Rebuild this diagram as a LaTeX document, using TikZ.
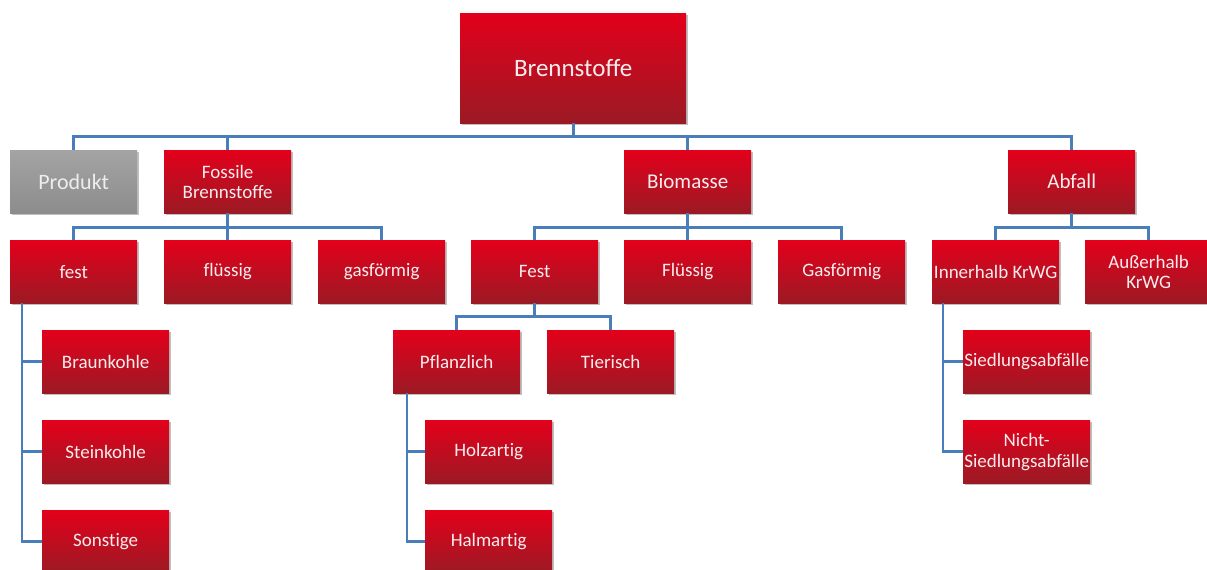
\documentclass[tikz,border=0pt]{standalone}
\usepackage{fontspec}
\setmainfont[RawFeature={-liga;-dlig;-clig}]{Carlito}
\usetikzlibrary{shadows}
\definecolor{lineblue}{HTML}{4A7EBB}
\definecolor{redtop}{HTML}{E3001B}
\definecolor{redmid}{HTML}{CE1120}
\definecolor{redbot}{HTML}{9B1A24}
\definecolor{txt}{HTML}{F8ECEE}
\definecolor{graytop}{HTML}{A4A4A4}
\definecolor{graybot}{HTML}{8C8C8C}
\definecolor{graytxt}{HTML}{EDEDED}
\begin{document}
\begin{tikzpicture}[x=1pt,y=-1pt,
  redbox/.style={shade, top color=redtop, middle color=redmid, bottom color=redbot,
    text=txt, minimum width=127pt, minimum height=63pt, inner sep=0pt,
    anchor=north west, align=center, font=\fontsize{19}{21}\selectfont,
    drop shadow={shadow xshift=1.5pt, shadow yshift=-2pt, opacity=0.25, fill=black}},
  graybox/.style={redbox, top color=graytop, middle color=graytop!50!graybot, bottom color=graybot, text=graytxt},
  toprow/.style={font=\fontsize{21}{23}\selectfont},
  conn/.style={draw=lineblue, line width=2.6pt}]
\useasboundingbox[fill=white] (0,0) rectangle (1207,570);

% level 0
\node[redbox, minimum width=226pt, minimum height=110pt, font=\fontsize{25}{28}\selectfont] (brenn) at (460,13) {Brennstoffe};
% level 1
\node[graybox, font=\fontsize{22}{24}\selectfont] (produkt) at (10,150) {Produkt};
\node[redbox, font=\fontsize{19}{20}\selectfont] (fossil) at (164,150) {Fossile\\Brennstoffe};
\node[redbox, toprow] (bio) at (624,150) {Biomasse};
\node[redbox, toprow] (abfall) at (1008,150) {Abfall};
% level 2
\node[redbox] (fest) at (10,240) {fest};
\node[redbox] (fluessig) at (164,240) {flüssig};
\node[redbox] (gas) at (318,240) {gasförmig};
\node[redbox] (festB) at (471,240) {Fest};
\node[redbox] (fluessigB) at (624,240) {Flüssig};
\node[redbox] (gasB) at (778,240) {Gasförmig};
\node[redbox] (inner) at (932,240) {\makebox[110pt][c]{Innerhalb KrWG}};
\node[redbox, font=\fontsize{19}{20}\selectfont] (ausser) at (1085,240) {Außerhalb\\KrWG};
% level 3
\node[redbox] (braun) at (42,330) {Braunkohle};
\node[redbox] (pflanz) at (393,330) {Pflanzlich};
\node[redbox] (tier) at (547,330) {Tierisch};
\node[redbox] (sied) at (963,330) {\makebox[110pt][c]{Siedlungsabfälle}};
% level 4
\node[redbox] (stein) at (42,420) {Steinkohle};
\node[redbox] (holz) at (425,420) {Holzartig};
\node[redbox, font=\fontsize{19}{21}\selectfont] (nicht) at (963,420) {Nicht-\\\makebox[110pt][c]{Siedlungsabfälle}};
% level 5
\node[redbox] (sonst) at (42,510) {Sonstige};
\node[redbox] (halm) at (425,510) {Halmartig};

% connectors
\draw[conn] (brenn.south) -- ++(0,13) -| (produkt.north);
\draw[conn] (brenn.south) -- ++(0,13) -| (fossil.north);
\draw[conn] (brenn.south) -- ++(0,13) -| (bio.north);
\draw[conn] (brenn.south) -- ++(0,13) -| (abfall.north);

\draw[conn] (fossil.south) -- ++(0,14) -| (fest.north);
\draw[conn] (fossil.south) -- ++(0,14) -| (fluessig.north);
\draw[conn] (fossil.south) -- ++(0,14) -| (gas.north);

\draw[conn] (bio.south) -- ++(0,14) -| (festB.north);
\draw[conn] (bio.south) -- ++(0,14) -| (fluessigB.north);
\draw[conn] (bio.south) -- ++(0,14) -| (gasB.north);

\draw[conn] (abfall.south) -- ++(0,14) -| (inner.north);
\draw[conn] (abfall.south) -- ++(0,14) -| (ausser.north);

\draw[conn] (festB.south) -- ++(0,13) -| (pflanz.north);
\draw[conn] (festB.south) -- ++(0,13) -| (tier.north);

\draw[conn] ([xshift=12pt]fest.south west) |- (braun.west);
\draw[conn] ([xshift=12pt]fest.south west) |- (stein.west);
\draw[conn] ([xshift=12pt]fest.south west) |- (sonst.west);

\draw[conn] ([xshift=14pt]pflanz.south west) |- (holz.west);
\draw[conn] ([xshift=14pt]pflanz.south west) |- (halm.west);

\draw[conn] ([xshift=11pt]inner.south west) |- (sied.west);
\draw[conn] ([xshift=11pt]inner.south west) |- (nicht.west);
\end{tikzpicture}
\end{document}
